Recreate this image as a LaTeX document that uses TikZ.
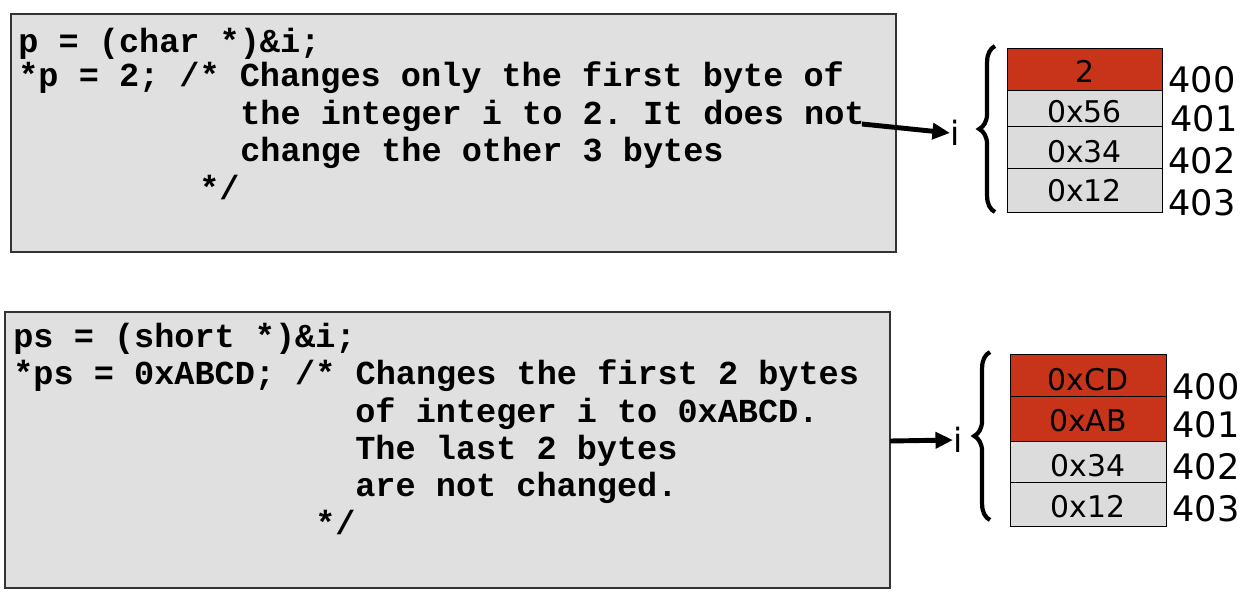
\documentclass[tikz,border=0pt]{standalone}
\usepackage{fontspec}
\setmonofont{Liberation Mono}
\newfontfamily\lblfont{DejaVu Sans}
\usetikzlibrary{decorations.pathreplacing,arrows.meta}
\definecolor{boxgray}{HTML}{E0E0E0}
\definecolor{cellgray}{HTML}{DCDCDC}
\definecolor{cellred}{HTML}{C8341A}
\tikzset{
  codebox/.style={draw=black!80,fill=boxgray,line width=0.6pt},
  codeline/.style={anchor=base west,inner sep=0pt,font=\fontsize{19.1}{19.1}\selectfont\ttfamily\bfseries},
  cellg/.style={draw=black,fill=cellgray,line width=0.5pt},
  cellr/.style={draw=black,fill=cellred,line width=0.5pt},
  celltext/.style={inner sep=0pt,font=\lblfont\fontsize{17}{17}\selectfont},
  addr/.style={anchor=west,inner sep=0pt,font=\lblfont\fontsize{20}{20}\selectfont},
  ilabel/.style={inner sep=0pt,font=\lblfont\fontsize{19}{19}\selectfont},
  ptrarrow/.style={line width=2.8pt,-{Triangle[length=10pt,width=9pt]}},
  bracestyle/.style={line width=2.4pt,decorate,decoration={brace,amplitude=9pt}}
}
\begin{document}
\begin{tikzpicture}[x=0.02cm,y=-0.02cm]
\useasboundingbox (0,0) rectangle (1254,602);
% ---------- top ----------
\draw[codebox] (11,14) rectangle (896,252);
\node[codeline] (t1) at (18,52) {p = (char *)\&i;};
\node[codeline] (t2) at (18,86) {*p = 2; /* Changes only the first byte of};
\node[codeline] (t3) at (240,124) {the integer i to 2. It does not};
\node[codeline] (t4) at (240,161) {change the other 3 bytes};
\node[codeline] (t5) at (199,199) {*/};
\draw[cellr] (1007,48) rectangle (1162,90);
\draw[cellg] (1007,90) rectangle (1162,126);
\draw[cellg] (1007,126) rectangle (1162,168);
\draw[cellg] (1007,168) rectangle (1162,212);
\node[celltext] (a0) at (1084.5,71) {2};
\node[celltext] (a1) at (1084.5,112) {0x56};
\node[celltext] (a2) at (1084.5,152) {0x34};
\node[celltext] (a3) at (1084.5,191) {0x12};
\node[addr] (aa0) at (1168,80) {400};
\node[addr] (aa1) at (1170,119) {401};
\node[addr] (aa2) at (1168,161) {402};
\node[addr] (aa3) at (1168,203) {403};
\node[ilabel] (ia) at (955,133) {i};
\coordinate (sa) at (862,124);
\draw[ptrarrow] (sa) -- (ia.west);
\coordinate (ba1) at (995,212);
\coordinate (ba2) at (995,46);
\draw[bracestyle] (ba1) -- (ba2);
% ---------- bottom ----------
\draw[codebox] (5,312) rectangle (890,588);
\node[codeline] (b1) at (13,347) {ps = (short *)\&i;};
\node[codeline] (b2) at (13,384) {*ps = 0xABCD; /* Changes the first 2 bytes};
\node[codeline] (b3) at (355,422) {of integer i to 0xABCD.};
\node[codeline] (b4) at (355,459) {The last 2 bytes};
\node[codeline] (b5) at (355,496) {are not changed.};
\node[codeline] (b6) at (315,534) {*/};
\draw[cellr] (1010,354) rectangle (1166,396);
\draw[cellr] (1010,396) rectangle (1166,441);
\draw[cellg] (1010,441) rectangle (1166,482);
\draw[cellg] (1010,482) rectangle (1166,526);
\node[celltext] (c0) at (1088,380) {0xCD};
\node[celltext] (c1) at (1088,421) {0xAB};
\node[celltext] (c2) at (1088,466) {0x34};
\node[celltext] (c3) at (1088,507) {0x12};
\node[addr] (cc0) at (1172,387) {400};
\node[addr] (cc1) at (1172,425) {401};
\node[addr] (cc2) at (1172,467) {402};
\node[addr] (cc3) at (1172,509) {403};
\node[ilabel] (ib) at (958,440) {i};
\coordinate (sb) at (890,441);
\draw[ptrarrow] (sb) -- (ib.west);
\coordinate (bb1) at (990,520);
\coordinate (bb2) at (990,352);
\draw[bracestyle] (bb1) -- (bb2);
\end{tikzpicture}
\end{document}
